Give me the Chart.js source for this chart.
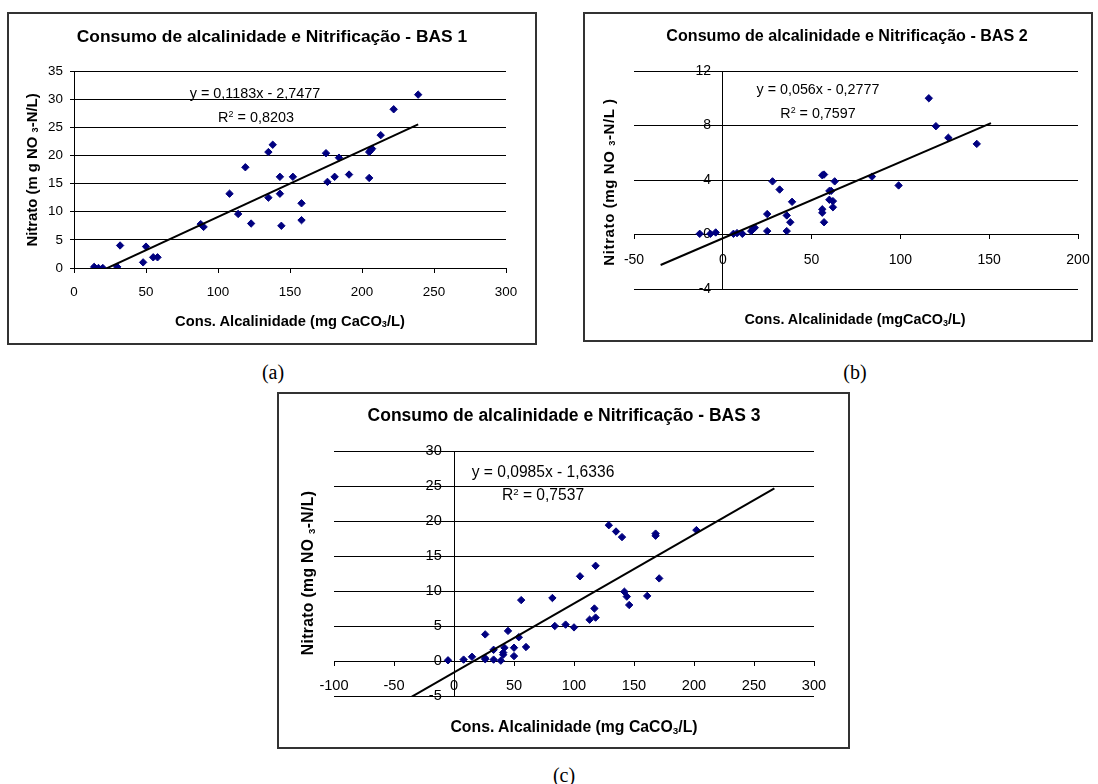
<!DOCTYPE html>
<html lang="pt">
<head>
<meta charset="utf-8">
<title>Consumo de alcalinidade e Nitrificação</title>
<script src="https://cdn.jsdelivr.net/npm/chart.js@4.4.1/dist/chart.umd.min.js"></script>
<style>
  body { margin: 0; width: 1098px; height: 784px; background: #fff; position: relative; overflow: hidden;
         font-family: "Liberation Sans", Arial, sans-serif; color: #000; }
  canvas { position: absolute; }
  .box { position: absolute; border: 2px solid #333; box-sizing: border-box; pointer-events: none; }
  .txt { position: absolute; white-space: nowrap; line-height: 1; transform: translate(-50%, -50%); }
  .bold { font-weight: bold; }
  .ytitle { transform: translate(-50%, -50%) rotate(-90deg); }
  .cap { font-family: "Liberation Serif", "Times New Roman", serif; font-size: 20px; }
  sub { font-size: 0.62em; vertical-align: -0.2em; line-height: 0; }
  sup { font-size: 0.62em; vertical-align: 0.55em; line-height: 0; }
</style>
</head>
<body>

<!-- (a) BAS 1 -->
<canvas id="chartA" width="530" height="333" style="left:7px; top:12px;"></canvas>
<div class="box" style="left:7px; top:12px; width:530px; height:333px;"></div>
<div class="txt bold" style="left:272px; top:37px; font-size:17.4px;">Consumo de alcalinidade e Nitrificação - BAS 1</div>
<div class="txt bold" style="left:290px; top:321px; font-size:14.7px;">Cons. Alcalinidade (mg CaCO<sub>3</sub>/L)</div>
<div class="txt bold ytitle" style="left:32px; top:170px; font-size:14.9px;">Nitrato (m g NO <sub>3</sub>-N/L)</div>
<div class="txt" style="left:255px; top:93px; font-size:14.4px;">y = 0,1183x - 2,7477</div>
<div class="txt" style="left:256px; top:117px; font-size:14.4px;">R<sup>2</sup> = 0,8203</div>
<div class="txt cap" style="left:273px; top:372px;">(a)</div>

<!-- (b) BAS 2 -->
<canvas id="chartB" width="510" height="330" style="left:583px; top:12px;"></canvas>
<div class="box" style="left:583px; top:12px; width:510px; height:330px;"></div>
<div class="txt bold" style="left:847px; top:35px; font-size:16.1px;">Consumo de alcalinidade e Nitrificação - BAS 2</div>
<div class="txt bold" style="left:855px; top:319px; font-size:14.4px;">Cons. Alcalinidade (mgCaCO<sub>3</sub>/L)</div>
<div class="txt bold ytitle" style="left:608px; top:182px; font-size:15px; letter-spacing:0.6px;">Nitrato (mg NO <sub>3</sub>-N/L )</div>
<div class="txt" style="left:818px; top:89px; font-size:14.3px;">y = 0,056x - 0,2777</div>
<div class="txt" style="left:818px; top:113px; font-size:14.3px;">R<sup>2</sup> = 0,7597</div>
<div class="txt cap" style="left:855px; top:372px;">(b)</div>

<!-- (c) BAS 3 -->
<canvas id="chartC" width="573" height="357" style="left:277px; top:392px;"></canvas>
<div class="box" style="left:277px; top:392px; width:573px; height:357px;"></div>
<div class="txt bold" style="left:564px; top:416px; font-size:17.5px;">Consumo de alcalinidade e Nitrificação - BAS 3</div>
<div class="txt bold" style="left:574px; top:727px; font-size:15.8px;">Cons. Alcalinidade (mg CaCO<sub>3</sub>/L)</div>
<div class="txt bold ytitle" style="left:308px; top:573px; font-size:15.6px; letter-spacing:0.4px;">Nitrato (mg NO <sub>3</sub>-N/L)</div>
<div class="txt" style="left:543px; top:472px; font-size:15.6px;">y = 0,0985x - 1,6336</div>
<div class="txt" style="left:543px; top:495px; font-size:15.6px;">R<sup>2</sup> = 0,7537</div>
<div class="txt cap" style="left:564px; top:775px;">(c)</div>

<script>
// Dados (a) BAS 1
const xA = [14, 17, 20, 30, 32, 48, 50, 55, 58, 88, 90, 108, 114, 119, 123, 135, 138, 135, 143, 143,
            144, 152, 158, 158, 175, 176, 181, 184, 191, 205, 207, 206, 205, 213, 222, 239];
const yA = [0.2, 0, 0, 0.2, 4.0, 1.0, 3.8, 1.9, 1.9, 7.8, 7.3, 13.2, 9.6, 17.9, 7.9, 20.6, 21.9, 12.5, 16.2, 13.2,
            7.5, 16.2, 11.5, 8.5, 20.4, 15.3, 16.2, 19.6, 16.6, 20.6, 21.2, 20.9, 16.0, 23.6, 28.2, 30.8];
const trendAx = [14, 239];
const trendAy = [-1.09, 25.53];

// Dados (b) BAS 2
const xB = [-13, -7, -4, 6, 8, 11, 16, 17, 18, 25, 25, 28, 32, 36, 36, 38, 39, 56, 57, 56,
            56, 57, 60, 60, 61, 62, 62, 63, 84, 99, 116, 120, 127, 143];
const yB = [0.05, 0.05, 0.15, 0.05, 0.1, 0.05, 0.25, 0.4, 0.5, 0.25, 1.5, 3.9, 3.3, 0.25, 1.4, 0.9, 2.4, 4.35, 4.4, 1.85,
            1.6, 0.9, 3.2, 2.55, 3.2, 2.45, 2.0, 3.9, 4.25, 3.6, 10.0, 7.95, 7.1, 6.65];
const trendBx = [-35, 151];
const trendBy = [-2.24, 8.18];

// Dados (c) BAS 3
const xC = [-5, 8, 15, 26, 26, 26, 33, 33, 39, 42, 41, 41, 45, 50, 50, 54, 56, 60, 82, 84,
            93, 100, 105, 113, 117, 118, 118, 129, 135, 140, 142, 144, 146, 161, 168, 168, 171, 202];
const yC = [0.1, 0.2, 0.6, 0.4, 0.25, 3.8, 1.6, 0.2, 0.05, 1.9, 1.2, 0.9, 4.3, 1.9, 0.7, 3.4, 8.7, 2.0, 9.0, 5.0,
            5.2, 4.8, 12.1, 5.9, 7.5, 6.2, 13.6, 19.4, 18.5, 17.7, 9.9, 9.2, 8.0, 9.3, 18.2, 17.9, 11.8, 18.7];
const trendCx = [-36, 267];
const trendCy = [-5.18, 24.66];

// Faixas dos eixos [min, max, passo]
const xAxisA = [0, 300, 50];
const yAxisA = [0, 35, 5];
const xAxisB = [-50, 200, 50];
const yAxisB = [-4, 12, 4];
const xAxisC = [-100, 300, 50];
const yAxisC = [-5, 30, 5];

const FONT = '"Liberation Sans", Arial, sans-serif';
const MARKER = '#000080';

document.addEventListener('DOMContentLoaded', () => {
    buildScatter('chartA', xA, yA, trendAx, trendAy, xAxisA, yAxisA,
        { fontSize: 13.4, xPad: 12, padding: { left: 67, top: 59, right: 31, bottom: 77 } });
    buildScatter('chartB', xB, yB, trendBx, trendBy, xAxisB, yAxisB,
        { fontSize: 14, xPad: 13, padding: { left: 51, top: 59, right: 15, bottom: 53 } });
    buildScatter('chartC', xC, yC, trendCx, trendCy, xAxisC, yAxisC,
        { fontSize: 14.6, xPad: 12, padding: { left: 57, top: 59, right: 36, bottom: 53 } });
});

// Gráfico de dispersão com linha de tendência, eixos cruzando em zero (estilo Excel)
function buildScatter(canvasId, xs, ys, tx, ty, xAxis, yAxis, cfg) {
    const points = xs.map((x, i) => ({ x: x, y: ys[i] }));
    const trend = tx.map((x, i) => ({ x: x, y: ty[i] }));
    const tickFont = { family: FONT, size: cfg.fontSize };

    return new Chart(document.getElementById(canvasId), {
        type: 'scatter',
        data: {
            datasets: [
                {
                    data: points,
                    pointStyle: 'rectRot',
                    pointRadius: 3.7,
                    backgroundColor: MARKER,
                    borderColor: MARKER,
                    borderWidth: 1,
                    order: 1,
                },
                {
                    data: trend,
                    showLine: true,
                    borderColor: '#000',
                    borderWidth: 2,
                    pointRadius: 0,
                    order: 0,
                },
            ],
        },
        options: {
            responsive: false,
            animation: false,
            events: [],
            layout: { padding: cfg.padding },
            plugins: { legend: { display: false }, tooltip: { enabled: false } },
            scales: {
                x: {
                    type: 'linear',
                    min: xAxis[0],
                    max: xAxis[1],
                    position: { y: 0 },
                    ticks: { stepSize: xAxis[2], color: '#000', font: tickFont, padding: cfg.xPad, maxRotation: 0, autoSkip: false },
                    grid: { drawOnChartArea: false, drawTicks: true, tickLength: 4, color: '#000' },
                    border: { display: true, color: '#000', width: 1 },
                    // the label padding would otherwise eat into the plot width at the edges
                    afterFit: (scale) => {
                        scale.paddingLeft = 0;
                        scale.paddingRight = 0;
                    },
                },
                y: {
                    type: 'linear',
                    min: yAxis[0],
                    max: yAxis[1],
                    position: { x: 0 },
                    // labels at a value-positioned axis sit against the line, so pad them with spaces
                    ticks: {
                        stepSize: yAxis[2], color: '#000', font: tickFont, autoSkip: false,
                        callback: (value) => value + '   ',
                    },
                    grid: { color: '#000', tickLength: 4 },
                    border: { display: true, color: '#000', width: 1 },
                },
            },
        },
    });
}
</script>
</body>
</html>
